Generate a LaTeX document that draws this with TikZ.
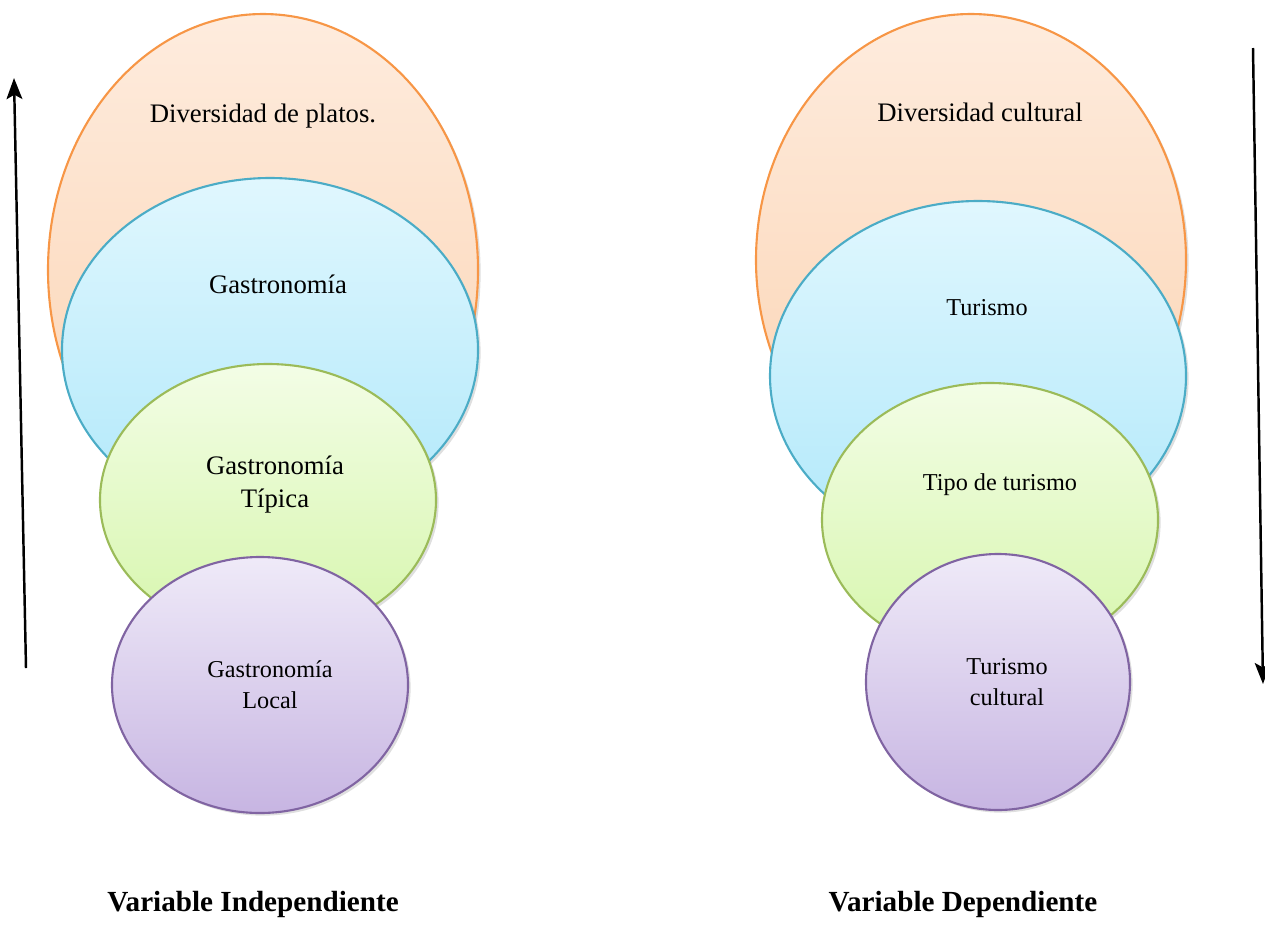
\documentclass[tikz,border=0pt]{standalone}
\usepackage{fontspec}
\setmainfont{Liberation Serif}
\usepackage{tikz}
\usetikzlibrary{arrows.meta, shadows, positioning}

\definecolor{orangeline}{HTML}{F79646}
\definecolor{orangetop}{HTML}{FEECDE}
\definecolor{orangebot}{HTML}{FBD2B0}
\definecolor{blueline}{HTML}{4BACC6}
\definecolor{bluetop}{HTML}{E0F7FE}
\definecolor{bluebot}{HTML}{B0E8FA}
\definecolor{greenline}{HTML}{9BBB59}
\definecolor{greentop}{HTML}{F3FDE6}
\definecolor{greenbot}{HTML}{D6F6AC}
\definecolor{violetline}{HTML}{8064A2}
\definecolor{violettop}{HTML}{EFEAF8}
\definecolor{violetbot}{HTML}{C7B5E2}

\tikzset{
  ball/.style={line width=1.2pt, drop shadow={opacity=0.25, shadow xshift=1.5pt, shadow yshift=-1.5pt}},
  orangeball/.style={ball, draw=orangeline, top color=orangetop, bottom color=orangebot},
  blueball/.style={ball, draw=blueline, top color=bluetop, bottom color=bluebot},
  greenball/.style={ball, draw=greenline, top color=greentop, bottom color=greenbot},
  violetball/.style={ball, draw=violetline, top color=violettop, bottom color=violetbot},
  bigtext/.style={align=center, font=\fontsize{15.2}{18.8}\selectfont},
  smalltext/.style={align=center, font=\fontsize{13.8}{17.6}\selectfont},
  vartext/.style={font=\fontsize{16.6}{19}\selectfont\bfseries},
  axis/.style={line width=1.4pt, -{Stealth[length=12pt, width=9pt, inset=2.5pt]}}
}

\begin{document}
\begin{tikzpicture}[x=0.02cm, y=-0.02cm]
		\useasboundingbox (0,0) rectangle (1265,924);
		% Left column
		\draw[orangeball] (263,270) ellipse (215 and 256);
		\draw[blueball] (270,350) ellipse (208 and 172);
		\draw[greenball] (268,500) ellipse (168 and 136);
		\draw[violetball] (260,685) ellipse (148 and 128);

		\node[bigtext] (platos) at (263,116) {Diversidad de platos.};
		\node[bigtext] (gastro) at (278,284) {Gastronomía};
		\node[bigtext] (tipica) at (275,485) {Gastronomía\\Típica};
		\node[smalltext] (local) at (270,685) {Gastronomía\\Local};

		% Right column
		\draw[orangeball] (971,260) ellipse (215 and 246);
		\draw[blueball] (978,376) ellipse (208 and 175);
		\draw[greenball] (990,520) ellipse (168 and 137);
		\draw[violetball] (998,682) ellipse (132 and 128);

		\node[bigtext] (cultura) at (980,112) {Diversidad cultural};
		\node[smalltext] (turismo) at (987,308) {Turismo};
		\node[smalltext] (tipo) at (1000,485) {Tipo de turismo};
		\node[smalltext] (tcultural) at (1007,682) {Turismo\\cultural};

		% Arrows
		\coordinate (upfrom) at (26,668);
		\coordinate (upto) at (14,78);
		\coordinate (downfrom) at (1253,48);
		\coordinate (downto) at (1263,684);
		\draw[axis] (upfrom) -- (upto);
		\draw[axis] (downfrom) -- (downto);

		% Labels
		\node[vartext] (indep) at (253,904) {Variable Independiente};
		\node[vartext] (dep) at (963,904) {Variable Dependiente};
	\end{tikzpicture}
\end{document}
